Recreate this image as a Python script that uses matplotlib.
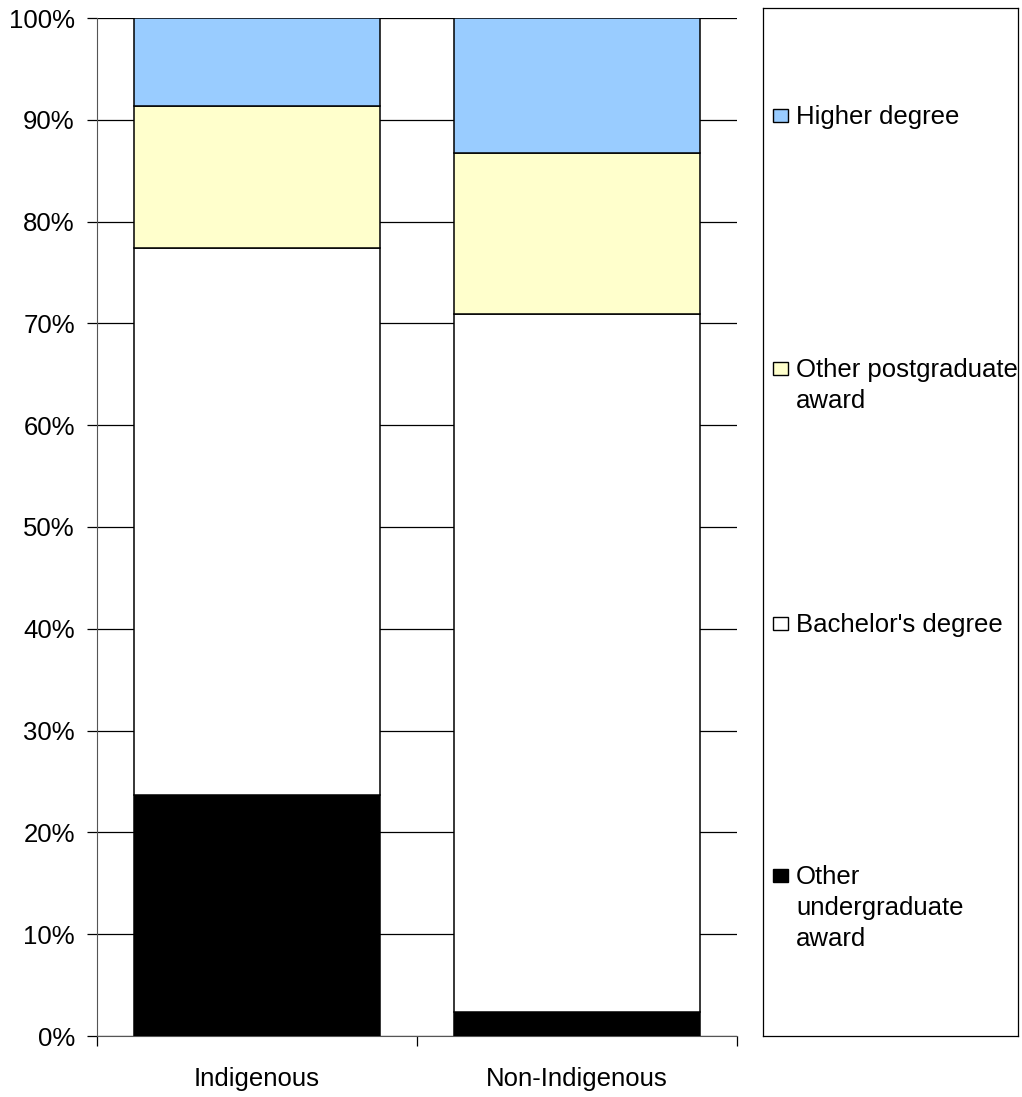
import matplotlib
matplotlib.use("Agg")
import matplotlib.pyplot as plt
from matplotlib.patches import Rectangle
import numpy as np

plt.rcParams['font.family'] = ['Liberation Sans', 'DejaVu Sans']

groups = ["Indigenous", "Non-Indigenous"]
series = ["Other undergraduate award", "Bachelor's degree",
          "Other postgraduate award", "Higher degree"]
legend_labels = ["Other\nundergraduate\naward", "Bachelor's degree",
                 "Other postgraduate\naward", "Higher degree"]
other_ug = [23.7, 2.4]
bachelor = [53.7, 68.5]
other_pg = [14.0, 15.8]
higher = [8.6, 13.3]
colors = ["#000000", "#FFFFFF", "#FFFFCC", "#99CCFF"]

fs = 18.5
fig = plt.figure(figsize=(10.22, 10.97), dpi=100)
ax = fig.add_axes([97/1022, 61/1097, 640/1022, 1018/1097])

x = np.arange(len(groups))
bottom = np.zeros(len(groups))
for vals, c in zip([other_ug, bachelor, other_pg, higher], colors):
    ax.bar(x, vals, width=0.77, bottom=bottom, color=c, edgecolor="black",
           linewidth=1.1, zorder=3)
    bottom += np.array(vals)

ax.set_xlim(-0.5, 1.5)
ax.set_ylim(0, 100)
ax.set_yticks(np.arange(0, 101, 10))
ax.set_yticklabels([f"{v}%" for v in range(0, 101, 10)], fontsize=fs)
ax.yaxis.grid(True, color="black", linewidth=0.9, zorder=0)
ax.set_axisbelow(True)

ax.set_xticks([-0.5, 0.5, 1.5])
ax.set_xticklabels([])
ax.set_xticks(x, minor=True)
ax.set_xticklabels(groups, minor=True, fontsize=fs)
ax.tick_params(axis="x", which="minor", length=0, pad=22)
ax.tick_params(axis="x", which="major", length=7, width=0.9, direction="out")
ax.tick_params(axis="y", length=7, width=0.9, direction="out", pad=9)

for s in ["top", "right"]:
    ax.spines[s].set_visible(False)
ax.spines["left"].set_color("#555555")
ax.spines["bottom"].set_color("#555555")

# legend box
lax = fig.add_axes([763/1022, 61/1097, 255/1022, 1028/1097])
lax.set_xlim(0, 255)
lax.set_ylim(1028, 0)
lax.set_xticks([])
lax.set_yticks([])
for s in lax.spines.values():
    s.set_linewidth(0.9)
    s.set_color("black")

entry_y = [867, 615, 360, 107]
for lab, c, y in zip(legend_labels, colors, entry_y):
    lax.add_patch(Rectangle((10, y - 6), 15, 13, facecolor=c,
                            edgecolor="black", linewidth=1.0))
    lax.text(33, y - 10, lab, fontsize=fs, va="top", ha="left",
             linespacing=1.37)

fig.savefig("out.png", dpi=100)
